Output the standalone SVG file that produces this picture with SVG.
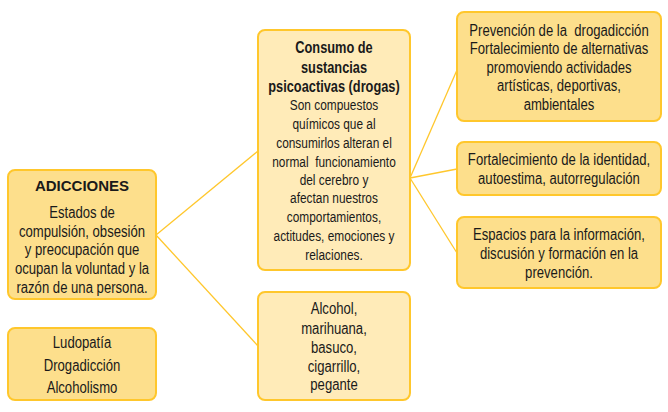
<svg xmlns="http://www.w3.org/2000/svg" width="668" height="412" viewBox="0 0 668 412">
<style>
.box{stroke:#FFC72C;stroke-width:2}
.dark{fill:#FDDF8C}
.light{fill:#FFEBB8}
.t{font-family:"Liberation Sans",Arial,sans-serif;font-size:16px;fill:#1a1a1a;text-anchor:middle}
.s{font-size:14.5px}
.b{font-weight:bold}
.ab{font-family:"Liberation Sans",Arial,sans-serif;font-weight:bold;font-size:15px;fill:#1a1a1a;text-anchor:middle}
.c{stroke:#FFC72C;stroke-width:1.3;fill:none}
</style>
<rect width="668" height="412" fill="#fff"/>
<g id="connectors">
<line class="c" x1="156" y1="235" x2="258" y2="151"/>
<line class="c" x1="156" y1="235" x2="258" y2="346"/>
<line class="c" x1="410" y1="178" x2="457" y2="70"/>
<line class="c" x1="410" y1="178" x2="457" y2="169"/>
<line class="c" x1="410" y1="178" x2="457" y2="253"/>
</g>
<g id="adicciones">
<rect class="box dark" x="8" y="170" width="148" height="129" rx="7"/>
<text class="ab" x="82" y="191">ADICCIONES</text>
<g transform="translate(82,0) scale(0.82,1)">
<text class="t" x="0" y="218">Estados de</text>
<text class="t" x="0" y="237">compulsión, obsesión</text>
<text class="t" x="0" y="255">y preocupación que</text>
<text class="t" x="0" y="274">ocupan la voluntad y la</text>
<text class="t" x="0" y="293">razón de una persona.</text>
</g>
</g>
<g id="tipos">
<rect class="box dark" x="8" y="328" width="148" height="72" rx="7"/>
<g transform="translate(82,0) scale(0.82,1)">
<text class="t" x="0" y="348">Ludopatía</text>
<text class="t" x="0" y="371">Drogadicción</text>
<text class="t" x="0" y="393">Alcoholismo</text>
</g>
</g>
<g id="consumo">
<rect class="box light" x="258" y="30" width="152" height="240" rx="7"/>
<g transform="translate(334,0) scale(0.8,1)">
<text class="t b" x="0" y="53">Consumo de</text>
<text class="t b" x="0" y="73">sustancias</text>
<text class="t b" x="0" y="92">psicoactivas (drogas)</text>
</g>
<g transform="translate(334,0) scale(0.82,1)">
<text class="t s" x="0" y="110">Son compuestos</text>
<text class="t s" x="0" y="129">químicos que al</text>
<text class="t s" x="0" y="148">consumirlos alteran el</text>
<text class="t s" x="0" y="167" xml:space="preserve">normal  funcionamiento</text>
<text class="t s" x="0" y="185">del cerebro y</text>
<text class="t s" x="0" y="203">afectan nuestros</text>
<text class="t s" x="0" y="222">comportamientos,</text>
<text class="t s" x="0" y="241">actitudes, emociones y</text>
<text class="t s" x="0" y="260">relaciones.</text>
</g>
</g>
<g id="sustancias">
<rect class="box light" x="258" y="292" width="152" height="108" rx="7"/>
<g transform="translate(334,0) scale(0.82,1)">
<text class="t" x="0" y="314">Alcohol,</text>
<text class="t" x="0" y="334">marihuana,</text>
<text class="t" x="0" y="353">basuco,</text>
<text class="t" x="0" y="372">cigarrillo,</text>
<text class="t" x="0" y="390">pegante</text>
</g>
</g>
<g id="prevencion">
<rect class="box dark" x="457" y="12" width="204" height="109" rx="7"/>
<g transform="translate(559,0) scale(0.82,1)">
<text class="t" x="0" y="36" xml:space="preserve">Prevención de la  drogadicción</text>
<text class="t" x="0" y="54">Fortalecimiento de alternativas</text>
<text class="t" x="0" y="73">promoviendo actividades</text>
<text class="t" x="0" y="91">artísticas, deportivas,</text>
<text class="t" x="0" y="110">ambientales</text>
</g>
</g>
<g id="identidad">
<rect class="box dark" x="457" y="142" width="204" height="53" rx="7"/>
<g transform="translate(559,0) scale(0.82,1)">
<text class="t" x="0" y="165">Fortalecimiento de la identidad,</text>
<text class="t" x="0" y="184">autoestima, autorregulación</text>
</g>
</g>
<g id="espacios">
<rect class="box dark" x="457" y="217" width="204" height="71" rx="7"/>
<g transform="translate(559,0) scale(0.82,1)">
<text class="t" x="0" y="240">Espacios para la información,</text>
<text class="t" x="0" y="259">discusión y formación en la</text>
<text class="t" x="0" y="278">prevención.</text>
</g>
</g>
</svg>
